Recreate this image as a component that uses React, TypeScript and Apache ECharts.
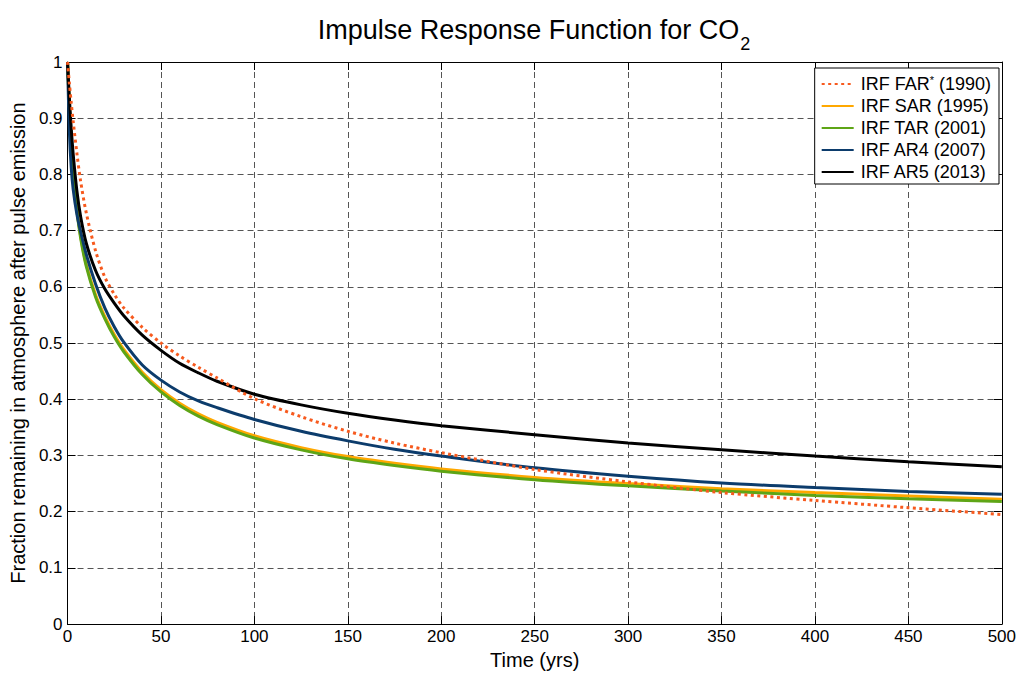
import React, { useEffect, useRef } from "react";
import * as echarts from "echarts";

const T = [0, 1, 2, 3, 5, 7, 10, 15, 20, 25, 30, 40, 50, 60, 70, 80, 100, 125, 150, 175, 200, 250, 300, 350, 400, 450, 500];
const FAR = [1.0, 0.962, 0.927, 0.895, 0.838, 0.788, 0.732, 0.664, 0.617, 0.587, 0.563, 0.528, 0.5, 0.477, 0.457, 0.438, 0.401, 0.369, 0.343, 0.322, 0.305, 0.275, 0.253, 0.234, 0.22, 0.207, 0.195];
const SAR = [1.0, 0.921, 0.86, 0.811, 0.739, 0.69, 0.64, 0.586, 0.547, 0.515, 0.489, 0.448, 0.417, 0.393, 0.374, 0.359, 0.335, 0.314, 0.298, 0.286, 0.276, 0.261, 0.25, 0.241, 0.234, 0.228, 0.222];
const TAR = [1.0, 0.92, 0.858, 0.808, 0.736, 0.687, 0.637, 0.582, 0.543, 0.511, 0.485, 0.444, 0.413, 0.389, 0.37, 0.355, 0.331, 0.31, 0.294, 0.282, 0.272, 0.257, 0.246, 0.237, 0.229, 0.223, 0.218];
const AR4 = [1.0, 0.875, 0.811, 0.774, 0.729, 0.698, 0.658, 0.605, 0.562, 0.529, 0.502, 0.461, 0.434, 0.413, 0.397, 0.385, 0.364, 0.343, 0.326, 0.311, 0.299, 0.278, 0.263, 0.251, 0.243, 0.236, 0.231];
const AR5 = [1.0, 0.935, 0.881, 0.837, 0.771, 0.725, 0.678, 0.629, 0.596, 0.571, 0.549, 0.514, 0.487, 0.464, 0.447, 0.432, 0.409, 0.39, 0.375, 0.363, 0.353, 0.337, 0.322, 0.31, 0.299, 0.289, 0.28];

const NAMES = ["IRF FAR* (1990)", "IRF SAR (1995)", "IRF TAR (2001)", "IRF AR4 (2007)", "IRF AR5 (2013)"];
const COLORS = ["#F75A1E", "#FFA800", "#5EA516", "#0C3C6C", "#000000"];

const FONT = "Liberation Sans, Arial, Helvetica, sans-serif";

export default function App() {
  const ref = useRef<HTMLDivElement>(null);
  useEffect(() => {
    if (!ref.current) return;
    const chart = echarts.init(ref.current, undefined, { renderer: "svg" });
    const mk = (arr: number[]) => T.map((t, i) => [t, arr[i]]);
    const datasets = [FAR, SAR, TAR, AR4, AR5];
    const drawOrder = [1, 2, 3, 4, 0];
    const series: any[] = drawOrder.map((k) => ({
      name: NAMES[k],
      type: "line",
      data: mk(datasets[k]),
      symbol: "none",
      smooth: 0.3,
      z: 3 + drawOrder.indexOf(k),
      lineStyle: {
        color: COLORS[k],
        width: 3,
        type: k === 0 ? [3, 3.5] : "solid",
      },
      itemStyle: { color: COLORS[k] },
    }));
    const grid = { left: 66, right: 16, top: 62, bottom: 43, containLabel: false };
    const split = { show: true, lineStyle: { color: "#555", width: 1, type: [6, 4] } };
    chart.setOption({
      animation: false,
      backgroundColor: "#fff",
      title: {
        text: "{t|Impulse Response Function for CO}{s|2}",
        left: 534,
        textAlign: "center",
        top: 0,
        padding: 0,
        textStyle: {
          fontWeight: "normal",
          rich: {
            t: { fontFamily: FONT, fontSize: 27, fontWeight: "normal", color: "#000", lineHeight: 60 },
            s: {
              fontFamily: FONT,
              fontSize: 18,
              fontWeight: "normal",
              color: "#000",
              lineHeight: 14,
              padding: [35, 0, 0, 1],
              verticalAlign: "top",
            },
          },
        },
      },
      legend: {
        data: NAMES,
        orient: "vertical",
        right: 20,
        top: 68,
        itemWidth: 32,
        itemHeight: 20,
        itemGap: 4,
        padding: [6, 8, 3, 6],
        borderColor: "#000",
        borderWidth: 1,
        backgroundColor: "#fff",
        itemStyle: { opacity: 0 },
        formatter: (name: string) =>
          name === NAMES[0] ? "{t|IRF FAR}{s|*}{t| (1990)}" : "{t|" + name + "}",
        textStyle: {
          fontFamily: FONT,
          fontSize: 18,
          color: "#000",
          padding: [0, 0, 0, 2],
          rich: {
            t: { fontFamily: FONT, fontSize: 18, color: "#000", lineHeight: 20 },
            s: { fontFamily: FONT, fontSize: 11, color: "#000", lineHeight: 11, verticalAlign: "top" },
          },
        },
      },
      grid,
      xAxis: [
        {
          type: "value",
          min: 0,
          max: 500,
          interval: 50,
          name: "Time (yrs)",
          nameLocation: "middle",
          nameGap: 22,
          nameTextStyle: { fontFamily: FONT, fontSize: 20, color: "#000" },
          axisLine: { show: true, onZero: false, lineStyle: { color: "#000", width: 1 } },
          axisTick: { show: true, inside: true, length: 8, lineStyle: { color: "#000" } },
          axisLabel: { fontFamily: FONT, fontSize: 17, color: "#000", margin: 4 },
          splitLine: split,
        },
        {
          type: "value",
          position: "top",
          min: 0,
          max: 500,
          interval: 50,
          axisLine: { show: true, onZero: false, lineStyle: { color: "#000", width: 1 } },
          axisTick: { show: true, inside: true, length: 8, lineStyle: { color: "#000" } },
          axisLabel: { show: false },
          splitLine: { show: false },
        },
      ],
      yAxis: [
        {
          type: "value",
          min: 0,
          max: 1,
          interval: 0.1,
          name: "Fraction remaining in atmosphere after pulse emission",
          nameLocation: "middle",
          nameGap: 34,
          nameTextStyle: { fontFamily: FONT, fontSize: 20, color: "#000" },
          axisLine: { show: true, onZero: false, lineStyle: { color: "#000", width: 1 } },
          axisTick: { show: true, inside: true, length: 8, lineStyle: { color: "#000" } },
          axisLabel: {
            fontFamily: FONT,
            fontSize: 17,
            color: "#000",
            margin: 5,
            formatter: (v: number) => String(+v.toFixed(1)),
          },
          splitLine: split,
        },
        {
          type: "value",
          position: "right",
          min: 0,
          max: 1,
          interval: 0.1,
          axisLine: { show: true, onZero: false, lineStyle: { color: "#000", width: 1 } },
          axisTick: { show: true, inside: true, length: 8, lineStyle: { color: "#000" } },
          axisLabel: { show: false },
          splitLine: { show: false },
        },
      ],
      series,
    });
    return () => chart.dispose();
  }, []);
  return (
    <div
      ref={ref}
      style={{ position: "fixed", left: 0, top: 0, width: 1019, height: 675, background: "#fff" }}
    />
  );
}
